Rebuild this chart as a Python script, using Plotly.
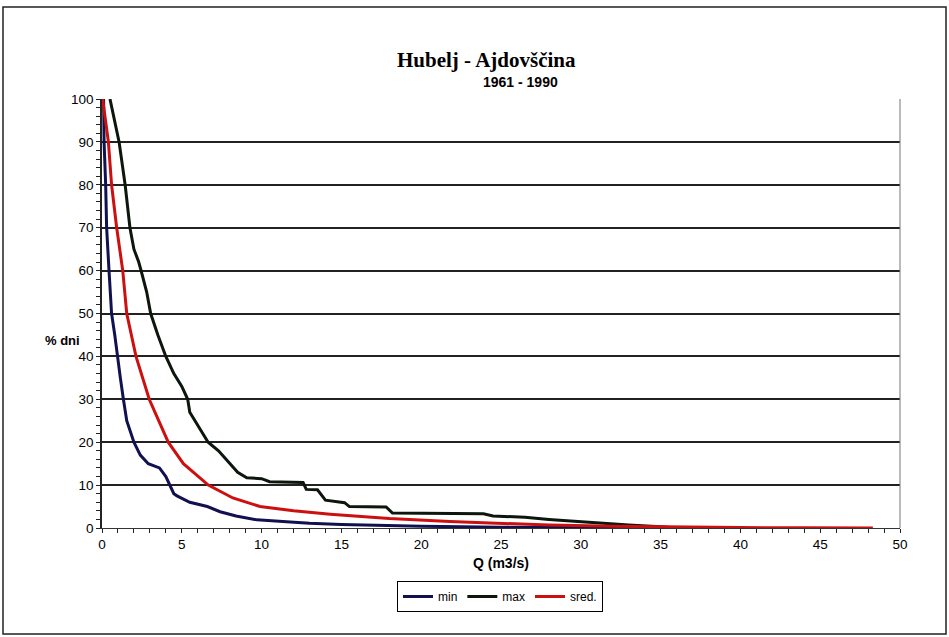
import plotly.graph_objects as go

# ---- data ----
min_q = [0.1, 0.13, 0.23, 0.29, 0.44, 0.6, 0.8, 0.96, 1.15, 1.34, 1.55, 2.0, 2.4, 2.9, 3.6, 4.0, 4.26,
         4.5, 4.7, 5.5, 6.6, 7.4, 8.4, 9.7, 11.8, 13.0, 15.0, 20.0, 25.0, 30.0, 35.0]
min_p = [100, 90, 80, 70, 60, 50, 45, 40, 35, 30, 25, 20, 17, 15, 14, 12, 10,
         8, 7.5, 6, 5, 3.8, 2.8, 1.9, 1.4, 1.1, 0.8, 0.4, 0.2, 0.1, 0]

max_q = [0.5, 1.07, 1.45, 1.75, 2.0, 2.3, 2.45, 2.8, 3.05, 3.5, 4.0, 4.5, 5.0, 5.37, 5.5, 6.0, 6.65,
         7.3, 8.0, 8.5, 9.07, 10.0, 10.5, 12.6, 12.8, 13.5, 14.0, 15.2, 15.5, 17.8, 18.2, 23.9,
         24.5, 26.5, 28.0, 29.5, 31.0, 33.0, 35.0, 36.0]
max_p = [100, 90, 80, 70, 65, 62, 60, 55, 50, 45, 40, 36, 33, 30, 27, 24, 20,
         18, 15, 13, 11.7, 11.5, 10.8, 10.6, 9, 8.9, 6.5, 5.9, 5, 4.9, 3.5, 3.3,
         2.8, 2.5, 2.0, 1.6, 1.1, 0.7, 0.3, 0]

sred_q = [0.04, 0.2, 0.4, 0.6, 0.92, 1.3, 1.55, 2.13, 2.96, 4.15, 5.1, 6.66, 8.2, 9.9, 12.0, 14.3,
          18.0, 21.8, 25.0, 28.0, 32.0, 36.0, 40.0, 44.0, 48.3]
sred_p = [100, 95, 90, 80, 70, 60, 50, 40, 30, 20, 15, 10, 7, 5, 4, 3.2,
          2.2, 1.5, 1.1, 0.7, 0.4, 0.2, 0.1, 0.05, 0]

x_ticks = [0, 5, 10, 15, 20, 25, 30, 35, 40, 45, 50]
y_ticks = [0, 10, 20, 30, 40, 50, 60, 70, 80, 90, 100]

# ---- geometry ----
W, H = 949, 637
L, R, T, B = 102, 900, 99, 528


def px(x):
    return (x - L) / (R - L)


def py(y):
    return (B - y) / (B - T)


FONT = "Liberation Sans, Arial, sans-serif"

fig = go.Figure()
fig.add_trace(go.Scatter(x=min_q, y=min_p, mode="lines", name="min",
                         line=dict(color="#111150", width=3)))
fig.add_trace(go.Scatter(x=max_q, y=max_p, mode="lines", name="max",
                         line=dict(color="#0c160c", width=3)))
fig.add_trace(go.Scatter(x=sred_q, y=sred_p, mode="lines", name="sred.",
                         line=dict(color="#cc1010", width=3)))

fig.update_layout(
    width=W, height=H,
    margin=dict(l=L, r=W - R, t=T, b=H - B),
    paper_bgcolor="white", plot_bgcolor="white",
    font=dict(family=FONT, color="black", size=13),
    showlegend=True,
    legend=dict(orientation="h", x=px(500), xanchor="center", y=py(581), yanchor="top",
                bordercolor="black", borderwidth=1, font=dict(size=12),
                itemwidth=30, tracegroupgap=0),
    xaxis=dict(range=[0, 50], tickvals=x_ticks, ticktext=[str(v) for v in x_ticks],
               showgrid=False, zeroline=False, showline=True, linecolor="#333", linewidth=1,
               mirror=False, ticks="outside", ticklen=4, tickcolor="#222",
               minor=dict(dtick=1, ticks="outside", ticklen=4, tickcolor="#222"),
               tickfont=dict(size=13.5),
               title=dict(text="<b>Q (m3/s)</b>", font=dict(size=14), standoff=6)),
    yaxis=dict(range=[0, 100], tickvals=y_ticks, showgrid=True, gridcolor="#222", gridwidth=1.6,
               zeroline=False, showline=True, linecolor="#222", linewidth=1.5,
               ticks="outside", ticklen=4, tickcolor="#222",
               minor=dict(dtick=2, ticks="outside", ticklen=4, tickcolor="#222"),
               tickfont=dict(size=13.5)),
    shapes=[
        dict(type="rect", xref="paper", yref="paper", x0=px(3), x1=px(946), y0=py(634), y1=py(7),
             line=dict(color="#222", width=1.5), layer="below"),
        dict(type="line", xref="paper", yref="paper", x0=1, x1=1, y0=0, y1=1,
             line=dict(color="#777", width=1)),
    ],
    annotations=[
        dict(text="<b>Hubelj - Ajdovščina</b>", xref="paper", yref="paper",
             x=px(486), y=py(60), xanchor="center", yanchor="middle", showarrow=False,
             font=dict(family="Liberation Serif, Times New Roman, serif", size=21)),
        dict(text="<b>1961 - 1990</b>", xref="paper", yref="paper",
             x=px(520), y=py(82), xanchor="center", yanchor="middle", showarrow=False,
             font=dict(size=14)),
        dict(text="<b>% dni</b>", xref="paper", yref="paper",
             x=px(62), y=py(340), xanchor="center", yanchor="middle", showarrow=False,
             font=dict(size=13)),
    ],
)

fig.write_html("out.html", config={"displayModeBar": False},
               post_script="document.body.style.margin='0px';")
